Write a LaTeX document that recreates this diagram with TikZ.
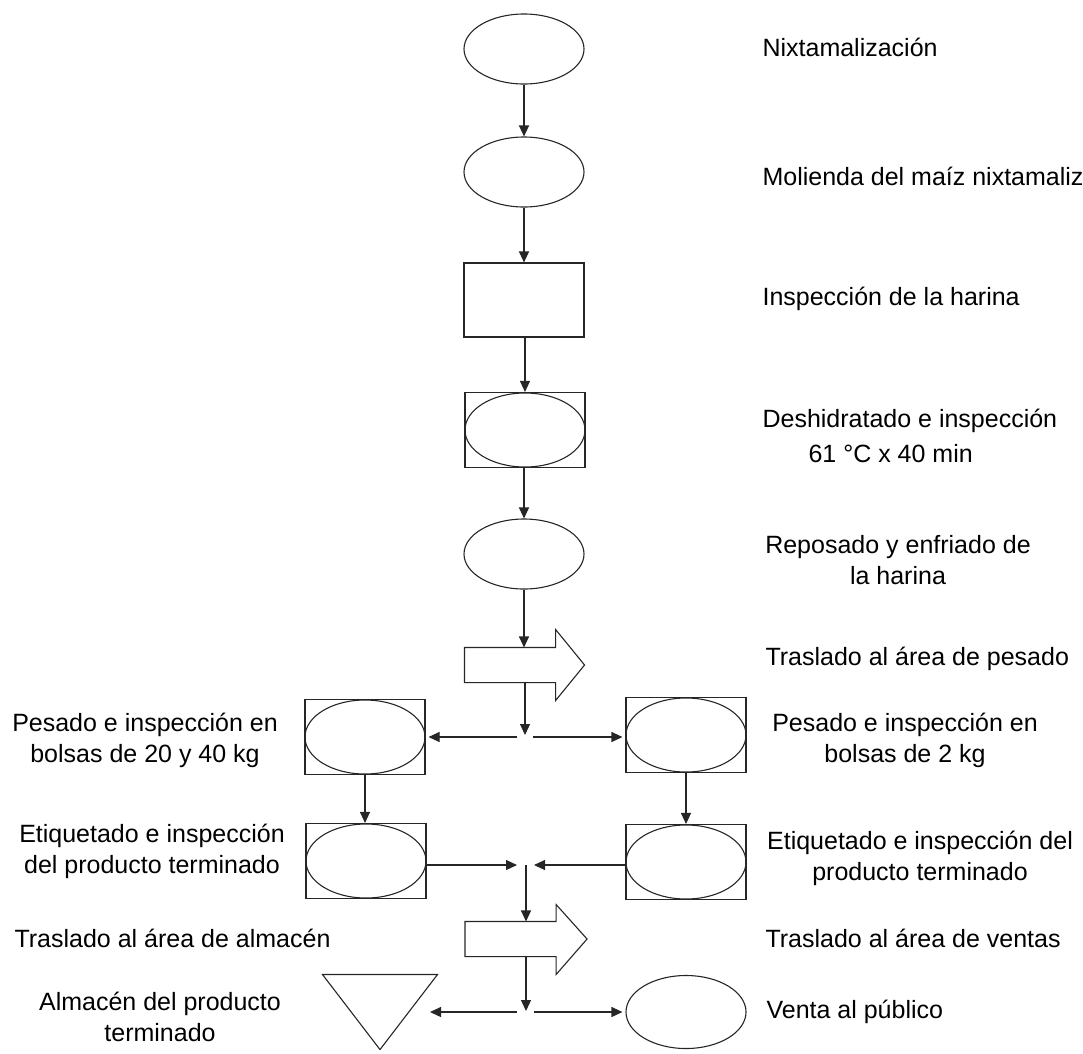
\documentclass[tikz,border=0pt]{standalone}
\usepackage{fontspec}
\setmainfont{Liberation Sans}
\usetikzlibrary{shapes.geometric,arrows.meta,calc}
\begin{document}
\begin{tikzpicture}[x=1pt,y=-1pt, line width=1.1pt, color=black!85,
  ell/.style={ellipse, draw, minimum width=120pt, minimum height=70pt, inner sep=0pt},
  box/.style={rectangle, draw, minimum width=120pt, minimum height=74pt, inner sep=0pt},
  bel/.style={rectangle, draw, minimum width=120pt, minimum height=75pt, inner sep=0pt,
    path picture={\draw (path picture bounding box.center) ellipse [x radius=60pt, y radius=37pt];}},
  body/.style={rectangle, draw=none, minimum width=90pt, minimum height=34pt, inner sep=0pt},
  tribox/.style={rectangle, draw=none, minimum width=114pt, minimum height=74pt, inner sep=0pt},
  arr/.style={-{Triangle[length=11pt,width=10pt]}},
  lbl/.style={font=\fontsize{25}{31}\selectfont, inner sep=0pt, text=black},
  lblc/.style={lbl, align=center}]
\useasboundingbox (0,0) rectangle (1083,1053);

% main column
\node[ell] (e1) at (524,49) {};
\node[ell] (e2) at (524,172) {};
\node[box] (r3) at (524,300) {};
\node[bel] (b4) at (525,430) {};
\node[ell] (e5) at (524,554) {};
\node[body] (ar1) at (510,665) {};
\draw (ar1.north west) -- (ar1.north east) -- ++(0,-18) -- ($(ar1.east)+(29,0)$)
  -- ($(ar1.south east)+(0,18)$) -- (ar1.south east) -- (ar1.south west) -- cycle;

% split 1
\coordinate (s1) at (525,737);
\coordinate (s1l) at (517,737);
\coordinate (s1r) at (533,737);
\node[bel] (p1) at (365,737) {};
\node[bel] (p2) at (686,735) {};
\node[bel] (q1) at (366,861) {};
\node[bel] (q2) at (686,862) {};

% merge
\coordinate (m1) at (526,865);
\coordinate (m1l) at (517,865);
\coordinate (m1r) at (534,865);
\node[body] (ar2) at (510.5,939) {};
\draw (ar2.north west) -- (ar2.north east) -- ++(0,-17) -- ($(ar2.east)+(31,0)$)
  -- ($(ar2.south east)+(0,18)$) -- (ar2.south east) -- (ar2.south west) -- cycle;

% split 2
\coordinate (s2) at (526,1012);
\coordinate (s2l) at (517,1012);
\coordinate (s2r) at (534,1012);
\node[tribox] (tri) at (380,1012) {};
\draw (tri.north west) -- (tri.north east) -- (tri.south) -- cycle;
\coordinate (trin) at (430,1012);
\node[ell, minimum height=73pt] (v) at (686,1012) {};

% connectors
\draw[arr] (e1) -- (e2);
\draw[arr] (e2) -- (r3);
\draw[arr] (r3.south -| b4.north) -- (b4.north);
\draw[arr] (b4.south -| e5.north) -- (e5.north);
\draw[arr] (e5.south) -- (e5.south |- ar1.north);
\draw[arr, shorten >=2pt] (s1 |- ar1.south) -- (s1);
\draw[arr, shorten >=3pt] (s1l) -- (s1l -| p1.east);
\draw[arr, shorten >=3pt] (s1r) -- (s1r -| p2.west);
\draw[arr] (p1.south) -- (p1.south |- q1.north);
\draw[arr] (p2.south) -- (p2.south |- q2.north);
\draw[arr] (q1.east |- m1) -- (m1l);
\draw[arr] (q2.west |- m1) -- (m1r);
\draw[arr] (m1) -- (m1 |- ar2.north);
\draw[arr, shorten >=1pt] (s2 |- ar2.south) -- (s2);
\draw[arr] (s2l) -- (trin);
\draw[arr, shorten >=3pt] (s2r) -- (v.west);

% labels
\node[lbl, anchor=west] (t1) at (762,47) {Nixtamalización};
\node[lbl, anchor=west] (t2) at (762,176) {Molienda del maíz nixtamaliz};
\node[lbl, anchor=west] (t3) at (762,299) {Inspección de la harina};
\node[lbl, anchor=west] (t4) at (762,421) {Deshidratado e inspección};
\node[lbl, anchor=west] (t4b) at (808,454) {61 °C x 40 min};
\node[lblc] (t5) at (898,560) {Reposado y enfriado de\\la harina};
\node[lbl, anchor=west] (t6) at (765,659) {Traslado al área de pesado};
\node[lblc] (t7) at (145,740) {Pesado e inspección en\\bolsas de 20 y 40 kg};
\node[lblc] (t8) at (905,740) {Pesado e inspección en\\bolsas de 2 kg};
\node[lblc] (t9) at (152,851) {Etiquetado e inspección\\del producto terminado};
\node[lblc] (t10) at (920,858) {Etiquetado e inspección del\\producto terminado};
\node[lbl, anchor=west] (t11) at (14,938) {Traslado al área de almacén};
\node[lbl, anchor=west] (t12) at (765,938) {Traslado al área de ventas};
\node[lblc] (t13) at (160,1017) {Almacén del producto\\terminado};
\node[lbl, anchor=west] (t14) at (766,1012) {Venta al público};
\end{tikzpicture}
\end{document}
